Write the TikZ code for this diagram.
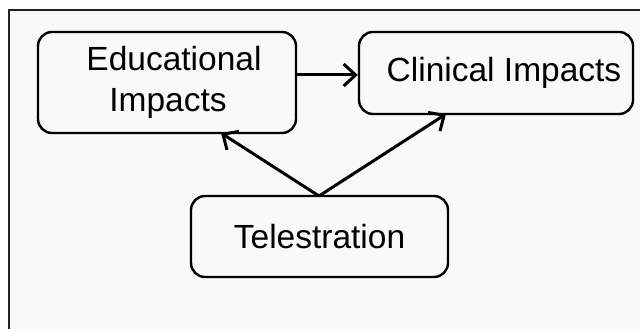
\documentclass[tikz,border=0pt]{standalone}
\usepackage{fontspec}
\setmainfont{Liberation Sans}
\usetikzlibrary{arrows.meta}
\definecolor{panel}{HTML}{F9F9F9}
\definecolor{frame}{HTML}{222222}
\tikzset{
  box/.style={draw=black, line width=2.4pt, rounded corners=14pt, inner sep=0pt, font=\fontsize{33.5}{41}\selectfont, align=center},
  link/.style={line width=3pt, -{Straight Barb[length=12pt,width=22pt,line width=3pt]}}
}
\begin{document}
\begin{tikzpicture}[x=1pt,y=-1pt]
\useasboundingbox (0,0) rectangle (640,329);
\begin{scope}
\clip (0,0) rectangle (640,329);
\fill[white] (0,0) rectangle (640,329);
\draw[frame, line width=2pt, fill=panel] (9,10) rectangle (660,350);
\end{scope}
\node[box, minimum width=258pt, minimum height=101pt] (edu) at (167,82.5) {\hspace*{14pt}Educational\\\hspace*{2pt}Impacts};
\node[box, minimum width=274pt, minimum height=82pt] (cli) at (496,73) {\hspace*{16pt}Clinical Impacts};
\node[box, minimum width=257pt, minimum height=81pt] (tel) at (319.5,236.5) {Telestration};
\coordinate (t) at (319,196);
\draw[link] (edu.east |- 0,75) -- (cli.west |- 0,75);
\draw[link] (t) -- (221,133);
\draw[link] (t) -- (446,114);
\end{tikzpicture}
\end{document}
